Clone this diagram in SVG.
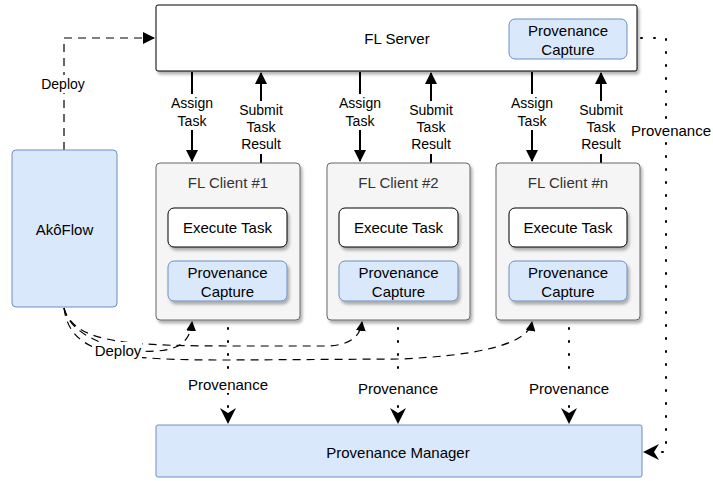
<svg xmlns="http://www.w3.org/2000/svg" width="713" height="481" viewBox="0 0 713 481">
<defs>
<filter id="sh" x="-10%" y="-10%" width="130%" height="130%">
<feDropShadow dx="2" dy="3" stdDeviation="1.5" flood-color="#000" flood-opacity="0.3"/>
</filter>
<marker id="ah" viewBox="0 0 12 12" refX="11" refY="6" markerWidth="12" markerHeight="12" markerUnits="userSpaceOnUse" orient="auto">
<path d="M0,0 L12,6 L0,12 Z" fill="#000"/>
</marker>
<marker id="ahc" viewBox="0 0 16 16" refX="15" refY="8" markerWidth="16" markerHeight="16" markerUnits="userSpaceOnUse" orient="auto">
<path d="M0,0 L16,8 L0,16 L5,8 Z" fill="#000"/>
</marker>
<marker id="ahs" viewBox="0 0 10 10" refX="9" refY="5" markerWidth="10" markerHeight="10" markerUnits="userSpaceOnUse" orient="auto">
<path d="M0,0 L10,5 L0,10 Z" fill="#000"/>
</marker>
</defs>
<style>
text{font-family:"Liberation Sans",Arial,sans-serif;fill:#000;text-anchor:middle;dominant-baseline:central}
.big{font-size:15px}
.sm{font-size:14px}
.blue{fill:#dae8fc;stroke:#6c8ebf;stroke-width:1}
.client{fill:#f5f5f5;stroke:#666;stroke-width:1}
.white{fill:#fff;stroke:#000;stroke-width:1}
.solid{fill:none;stroke:#000;stroke-width:2}
.dash{fill:none;stroke:#000;stroke-width:1.2;stroke-dasharray:8 6}
.dot{fill:none;stroke:#000;stroke-width:2;stroke-dasharray:1 12;stroke-linecap:round}
.bg{fill:#fff}
.tgrey{fill:#333}
</style>

<g id="connectors">
<path class="dash" d="M64,150 L64,38 L154,38" marker-end="url(#ah)"/>
<path class="dash" d="M64,308 C72,346 150,360 178,346 C188,340 191,332 192,322" marker-end="url(#ahs)"/>
<path class="dash" d="M64,308 C74,344 130,346 240,346 L330,346 C352,344 360,336 362,322" marker-end="url(#ahs)"/>
<path class="dash" d="M64,308 C70,356 120,360 230,360 L400,359 C470,356 528,346 532,322" marker-end="url(#ahs)"/>
<path class="solid" d="M192,72 L192,161" marker-end="url(#ah)"/>
<path class="solid" d="M261,163 L261,73" marker-end="url(#ah)"/>
<path class="solid" d="M360,72 L360,161" marker-end="url(#ah)"/>
<path class="solid" d="M431,163 L431,73" marker-end="url(#ah)"/>
<path class="solid" d="M532,72 L532,161" marker-end="url(#ah)"/>
<path class="solid" d="M601,163 L601,73" marker-end="url(#ah)"/>
<path class="dot" d="M228,302 L228,423" marker-end="url(#ahc)"/>
<path class="dot" d="M398,302 L398,423" marker-end="url(#ahc)"/>
<path class="dot" d="M569,302 L569,423" marker-end="url(#ahc)"/>
<path class="dot" d="M628,38 L666,38 L666,452 L644,452" marker-end="url(#ahc)"/>
<rect class="bg" x="40" y="75" width="46" height="18"/>
<text class="sm" x="63" y="84">Deploy</text>
<rect class="bg" x="94" y="342" width="48" height="17"/>
<text class="big" x="118" y="350">Deploy</text>
<rect class="bg" x="168" y="94" width="48" height="36"/>
<text class="sm" x="192" y="103">Assign</text>
<text class="sm" x="192" y="121">Task</text>
<rect class="bg" x="236" y="101" width="50" height="53"/>
<text class="sm" x="261" y="110">Submit</text>
<text class="sm" x="261" y="127">Task</text>
<text class="sm" x="261" y="144">Result</text>
<rect class="bg" x="336" y="94" width="48" height="36"/>
<text class="sm" x="360" y="103">Assign</text>
<text class="sm" x="360" y="121">Task</text>
<rect class="bg" x="406" y="101" width="50" height="53"/>
<text class="sm" x="431" y="110">Submit</text>
<text class="sm" x="431" y="127">Task</text>
<text class="sm" x="431" y="144">Result</text>
<rect class="bg" x="508" y="94" width="48" height="36"/>
<text class="sm" x="532" y="103">Assign</text>
<text class="sm" x="532" y="121">Task</text>
<rect class="bg" x="576" y="101" width="50" height="53"/>
<text class="sm" x="601" y="110">Submit</text>
<text class="sm" x="601" y="127">Task</text>
<text class="sm" x="601" y="144">Result</text>
<rect class="bg" x="186" y="374" width="84" height="19"/>
<text class="big" x="228" y="384">Provenance</text>
<rect class="bg" x="356" y="378" width="84" height="19"/>
<text class="big" x="398" y="388">Provenance</text>
<rect class="bg" x="527" y="378" width="84" height="19"/>
<text class="big" x="569" y="388">Provenance</text>
<rect class="bg" x="630" y="120" width="82" height="19"/>
<text class="big" x="671" y="130">Provenance</text>
</g>

<g id="fl-server">
<rect x="156" y="5" width="481" height="66" rx="2" fill="#fff" stroke="#000" stroke-width="1" filter="url(#sh)"/>
<text class="big" x="397" y="38">FL Server</text>
</g>
<g id="server-prov-capture">
<rect class="blue" x="509" y="19" width="118" height="40" rx="6"/>
<text class="big" x="568" y="30">Provenance</text>
<text class="big" x="568" y="49">Capture</text>
</g>

<g id="akoflow">
<rect class="blue" x="12" y="150" width="105" height="157" rx="4"/>
<text class="big" x="64.5" y="229">AkôFlow</text>
</g>

<g id="client1">
<rect class="client" x="156" y="163" width="144" height="157" rx="4" filter="url(#sh)"/>
<text class="big tgrey" x="228" y="182">FL Client #1</text>
<rect class="white" x="168" y="208" width="119" height="39" rx="6" filter="url(#sh)"/>
<text class="big" x="227.5" y="227.5">Execute Task</text>
<rect class="blue" x="168" y="261" width="119" height="40" rx="6" filter="url(#sh)"/>
<text class="big" x="227.5" y="272">Provenance</text>
<text class="big" x="227.5" y="291">Capture</text>
</g>

<g id="client2">
<rect class="client" x="327" y="163" width="143" height="157" rx="4" filter="url(#sh)"/>
<text class="big tgrey" x="398.5" y="182">FL Client #2</text>
<rect class="white" x="339" y="208" width="119" height="39" rx="6" filter="url(#sh)"/>
<text class="big" x="398.5" y="227.5">Execute Task</text>
<rect class="blue" x="339" y="261" width="119" height="40" rx="6" filter="url(#sh)"/>
<text class="big" x="398.5" y="272">Provenance</text>
<text class="big" x="398.5" y="291">Capture</text>
</g>

<g id="clientn">
<rect class="client" x="496" y="163" width="144" height="157" rx="4" filter="url(#sh)"/>
<text class="big tgrey" x="568" y="182">FL Client #n</text>
<rect class="white" x="509" y="208" width="118" height="39" rx="6" filter="url(#sh)"/>
<text class="big" x="568" y="227.5">Execute Task</text>
<rect class="blue" x="509" y="261" width="118" height="40" rx="6" filter="url(#sh)"/>
<text class="big" x="568" y="272">Provenance</text>
<text class="big" x="568" y="291">Capture</text>
</g>

<g id="prov-manager">
<rect class="blue" x="156" y="425" width="486" height="52" rx="2"/>
<text class="big" x="398" y="452">Provenance Manager</text>
</g>
</svg>
